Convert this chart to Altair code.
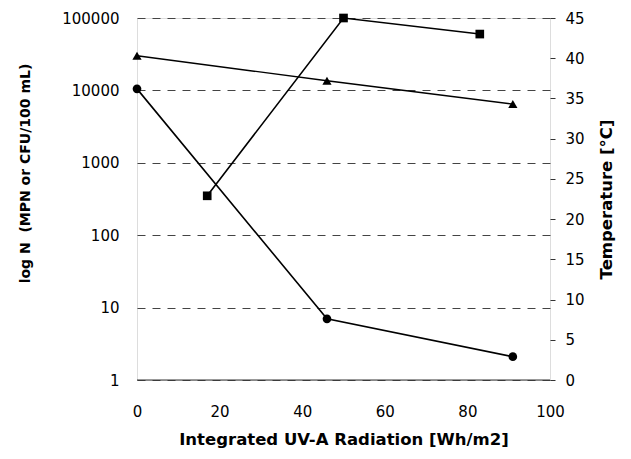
import altair as alt
import pandas as pd

# data
circ_x = [0, 46, 91]
circ_y = [10500, 7, 2.1]
sq_x = [17, 50, 83]
sq_y = [350, 100000, 60000]
tri_x = [0, 46, 91]
tri_t = [40.3, 37.2, 34.3]

df_c = pd.DataFrame({"x": circ_x, "y": circ_y})
df_s = pd.DataFrame({"x": sq_x, "y": sq_y})
df_t = pd.DataFrame({"x": tri_x, "t": tri_t})

FONT = "DejaVu Sans"

xenc = alt.X("x:Q", scale=alt.Scale(domain=[0, 100], nice=False),
             axis=alt.Axis(title="Integrated UV-A Radiation [Wh/m2]", values=[0, 20, 40, 60, 80, 100],
                           grid=False, domain=False, ticks=False, labelPadding=24, labelFlush=False,
                           labelFontSize=15, titleFontSize=16.5, titleFontWeight="bold",
                           titlePadding=12, labelFont=FONT, titleFont=FONT, labelColor="black",
                           titleColor="black"))

yleft = alt.Y("y:Q", scale=alt.Scale(type="log", domain=[1, 100000], nice=False),
              axis=alt.Axis(title="log N\u00a0\u00a0(MPN or CFU/100 mL)", values=[1, 10, 100, 1000, 10000, 100000],
                            format="d", grid=True, gridDash=[8, 7], gridColor="#444", gridWidth=1,
                            domain=False, ticks=False, labelPadding=18, labelFontSize=15,
                            titleFontSize=14, titleFontWeight="bold", titlePadding=29, titleY=155,
                            labelFont=FONT, titleFont=FONT, labelColor="black", titleColor="black"))

base_line = alt.Chart(pd.DataFrame({"a": [1]})).mark_rule(color="#333", strokeWidth=1).encode(
    y=alt.value(362), x=alt.value(0), x2=alt.value(413))

circ = alt.Chart(df_c).encode(x=xenc, y=yleft)
circ_l = circ.mark_line(color="black", strokeWidth=1.6)
circ_p = circ.mark_point(shape="circle", filled=True, color="black", size=75, opacity=1)

sq = alt.Chart(df_s).encode(x=xenc, y=yleft)
sq_l = sq.mark_line(color="black", strokeWidth=1.6)
sq_p = sq.mark_point(shape="square", filled=True, color="black", size=75, opacity=1)

yright = alt.Y("t:Q", scale=alt.Scale(domain=[0, 45], nice=False),
               axis=alt.Axis(title="Temperature [°C]", orient="right", values=list(range(0, 50, 5)),
                             grid=False, domain=False, ticks=True, tickSize=5, tickColor="#333",
                             labelPadding=10, labelFontSize=15,
                             titleFontSize=16.5, titleFontWeight="bold", titleAngle=270,
                             titlePadding=30, labelFont=FONT, titleFont=FONT,
                             labelColor="black", titleColor="black"))
tri = alt.Chart(df_t).encode(x=xenc, y=yright)
tri_l = tri.mark_line(color="black", strokeWidth=1.4)
tri_p = tri.mark_point(shape="triangle-up", filled=True, color="black", size=85, opacity=1)

left = alt.layer(base_line, circ_l, circ_p, sq_l, sq_p)
right = alt.layer(tri_l, tri_p)

chart = alt.layer(left, right).resolve_scale(y="independent").properties(
    width=413, height=362,
    autosize=alt.AutoSizeParams(type="none"),
    padding={"left": 137, "top": 18, "right": 81, "bottom": 79},
).configure_view(stroke=None).configure(background="white")

chart.save("out.html", embed_options={"renderer": "svg", "actions": False})
